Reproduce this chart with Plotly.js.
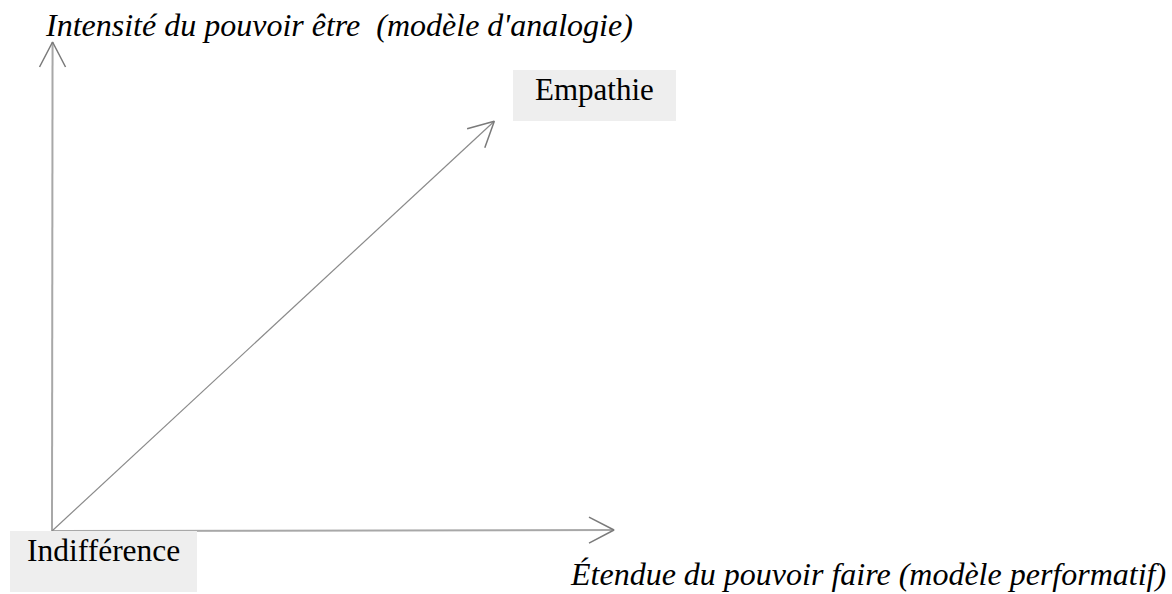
<!DOCTYPE html>
<html>
<head>
<meta charset="utf-8">
<script src="https://cdn.plot.ly/plotly-3.0.1.min.js"></script>
<style>html,body{margin:0;padding:0;background:#fff;}#chart{width:1172px;height:594px;}</style>
</head>
<body>
<div id="chart"></div>
<script>
// ---- data ----
const nodeNames = ['Indifférence', 'Empathie'];
const nodeX = [0, 0.787];
const nodeY = [0, 0.838];
const axisTitles = ['Étendue du pouvoir faire (modèle performatif)', "Intensité du pouvoir être\u00a0 (modèle d'analogie)"];
const axisTipX = [1, 0.001];
const axisTipY = [0.002, 1];

// ---- layout constants (pixels) ----
const W = 1172, H = 594;
const X0 = 52, Y0 = 531, SX = 562, SY = 489;
const toPx = (x, y) => [X0 + x * SX, Y0 - y * SY];
const toData = (px, py) => [(px - X0) / SX, (Y0 - py) / SY];

function arrowTrace(x0, y0, x1, y1, shaftColor, shaftWidth) {
  const p0 = toPx(x0, y0), p1 = toPx(x1, y1);
  const dx = p1[0] - p0[0], dy = p1[1] - p0[1];
  const L = Math.hypot(dx, dy);
  const ux = dx / L, uy = dy / L, nx = -uy, ny = ux;
  const back = 25, half = 13;
  const a1 = toData(p1[0] - back * ux + half * nx, p1[1] - back * uy + half * ny);
  const a2 = toData(p1[0] - back * ux - half * nx, p1[1] - back * uy - half * ny);
  return [
    {x: [x0, x1], y: [y0, y1], mode: 'lines', line: {color: shaftColor, width: shaftWidth}, hoverinfo: 'skip', showlegend: false},
    {x: [a1[0], x1, a2[0]], y: [a1[1], y1, a2[1]], mode: 'lines', line: {color: '#7a7a7a', width: 1.5}, hoverinfo: 'skip', showlegend: false}
  ];
}

const traces = [];
traces.push(...arrowTrace(nodeX[0], nodeY[0], axisTipX[0], axisTipY[0], '#a8a8a8', 2));
traces.push(...arrowTrace(nodeX[0], nodeY[0], axisTipX[1], axisTipY[1], '#a8a8a8', 2));
traces.push(...arrowTrace(nodeX[0], nodeY[0], nodeX[1], nodeY[1], '#8a8a8a', 1.2));

const px = v => v / W, py = v => 1 - v / H;
const serif = 'Liberation Serif, Times New Roman, serif';

const layout = {
  width: W, height: H,
  margin: {l: 0, r: 0, t: 0, b: 0},
  paper_bgcolor: '#ffffff', plot_bgcolor: '#ffffff',
  xaxis: {range: [-X0 / SX, (W - X0) / SX], visible: false, fixedrange: true},
  yaxis: {range: [(Y0 - H) / SY, Y0 / SY], visible: false, fixedrange: true},
  shapes: [
    {type: 'rect', xref: 'paper', yref: 'paper', x0: px(513), x1: px(676), y0: py(70), y1: py(121), fillcolor: '#eeeeee', line: {width: 0}, layer: 'above'},
    {type: 'rect', xref: 'paper', yref: 'paper', x0: px(10), x1: px(197), y0: py(531), y1: py(592), fillcolor: '#eeeeee', line: {width: 0}, layer: 'above'}
  ],
  annotations: [
    {text: nodeNames[1], xref: 'paper', yref: 'paper', x: px(594), y: py(90), xanchor: 'center', yanchor: 'middle', showarrow: false, font: {family: serif, size: 31, color: '#000'}},
    {text: nodeNames[0], xref: 'paper', yref: 'paper', x: px(25), y: py(550), xanchor: 'left', yanchor: 'middle', showarrow: false, font: {family: serif, size: 31.5, color: '#000'}},
    {text: '<i>' + axisTitles[1] + '</i>', xref: 'paper', yref: 'paper', x: px(43), y: py(25), xanchor: 'left', yanchor: 'middle', showarrow: false, font: {family: serif, size: 32, color: '#000'}},
    {text: '<i>' + axisTitles[0] + '</i>', xref: 'paper', yref: 'paper', x: px(1168), y: py(574), xanchor: 'right', yanchor: 'middle', showarrow: false, font: {family: serif, size: 32, color: '#000'}}
  ]
};

Plotly.newPlot('chart', traces, layout, {staticPlot: true, displayModeBar: false});
</script>
</body>
</html>
